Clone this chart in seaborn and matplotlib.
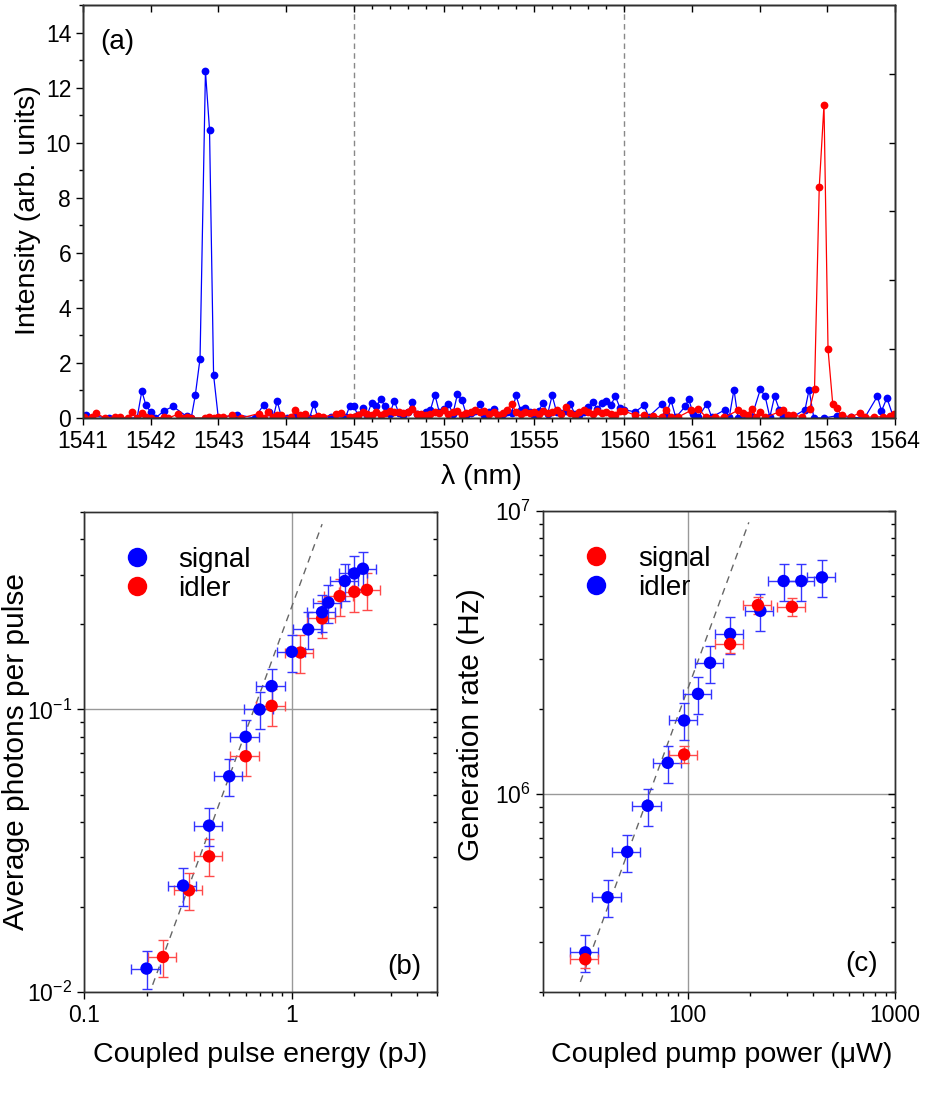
import numpy as np
import matplotlib
matplotlib.use("Agg")
import matplotlib.pyplot as plt
from matplotlib import ticker
from matplotlib.lines import Line2D
import seaborn as sns

# ---------------- panel (a): spectra ----------------
# blue trace (signal), 1541-1545 nm window
sig_lo_wl = [1541.05, 1541.39, 1541.80, 1541.87, 1541.93, 1542.00, 1542.07, 1542.20, 1542.33, 1542.53,
             1542.60, 1542.66, 1542.73, 1542.81, 1542.87, 1542.93, 1543.00, 1543.27, 1543.54, 1543.67,
             1543.75, 1543.81, 1543.87, 1543.93, 1544.01, 1544.13, 1544.35, 1544.41, 1544.47, 1544.67,
             1544.88, 1544.94]
sig_lo_int = [0.10, 0.00, 0.00, 0.98, 0.46, 0.22, 0.00, 0.26, 0.42, 0.06,
              0.00, 0.83, 2.16, 12.60, 10.47, 1.56, 0.00, 0.12, 0.00, 0.48,
              0.20, 0.00, 0.62, 0.05, 0.00, 0.05, 0.00, 0.52, 0.02, 0.05,
              0.02, 0.42]
# middle window 1545-1560 nm, sampled every 0.25 nm
mid_wl = np.arange(1545.0, 1560.001, 0.25)
sig_mid_int = [0.42, 0.10, 0.38, 0.12, 0.55, 0.42, 0.68, 0.42, 0.15, 0.62,
               0.18, 0.12, 0.20, 0.58, 0.15, 0.10, 0.20, 0.28, 0.85, 0.20,
               0.34, 0.52, 0.15, 0.86, 0.64, 0.12, 0.18, 0.25, 0.50, 0.12,
               0.20, 0.34, 0.10, 0.15, 0.20, 0.18, 0.82, 0.28, 0.38, 0.20,
               0.12, 0.25, 0.55, 0.15, 0.82, 0.20, 0.18, 0.25, 0.52, 0.15,
               0.12, 0.22, 0.40, 0.58, 0.34, 0.55, 0.60, 0.46, 0.79, 0.38,
               0.30]
idl_mid_int = [0.05, 0.12, 0.22, 0.15, 0.10, 0.20, 0.12, 0.18, 0.25, 0.22,
               0.20, 0.18, 0.22, 0.34, 0.15, 0.14, 0.10, 0.15, 0.22, 0.18,
               0.28, 0.14, 0.20, 0.25, 0.12, 0.18, 0.22, 0.28, 0.20, 0.25,
               0.14, 0.22, 0.10, 0.18, 0.30, 0.52, 0.20, 0.15, 0.22, 0.18,
               0.20, 0.14, 0.25, 0.18, 0.22, 0.28, 0.15, 0.40, 0.18, 0.12,
               0.20, 0.28, 0.22, 0.15, 0.25, 0.18, 0.20, 0.14, 0.10, 0.25,
               0.25]
# 1560-1564 nm window
sig_hi_wl = [1560.16, 1560.29, 1560.36, 1560.56, 1560.62, 1560.69, 1560.76, 1560.90, 1560.95, 1561.02,
             1561.09, 1561.22, 1561.29, 1561.49, 1561.55, 1561.62, 1561.68, 1561.88, 1562.01, 1562.08,
             1562.15, 1562.22, 1562.29, 1562.35, 1562.48, 1562.67, 1562.73, 1562.80, 1562.95, 1563.14,
             1563.35, 1563.55, 1563.74, 1563.80, 1563.88, 1563.98]
sig_hi_int = [0.22, 0.46, 0.05, 0.50, 0.15, 0.64, 0.02, 0.42, 0.68, 0.15,
              0.02, 0.52, 0.03, 0.30, 0.02, 1.03, 0.00, 0.02, 1.04, 0.79,
              0.03, 0.79, 0.30, 0.02, 0.03, 0.30, 1.03, 0.00, 0.00, 0.08,
              0.02, 0.00, 0.79, 0.25, 0.73, 0.00]

# red trace (idler)
idl_lo_wl = [1541.02, 1541.13, 1541.19, 1541.32, 1541.47, 1541.54, 1541.67, 1541.73, 1541.80, 1541.87,
             1541.93, 1542.00, 1542.20, 1542.26, 1542.41, 1542.47, 1542.54, 1542.60, 1542.80, 1542.86,
             1542.93, 1543.00, 1543.07, 1543.20, 1543.34, 1543.60, 1543.67, 1543.74, 1543.81, 1543.87,
             1543.93, 1544.07, 1544.14, 1544.20, 1544.28, 1544.41, 1544.47, 1544.54, 1544.74, 1544.81,
             1544.94]
idl_lo_int = [0.05, 0.03, 0.18, 0.00, 0.04, 0.03, 0.00, 0.22, 0.00, 0.18,
              0.04, 0.00, 0.02, 0.00, 0.14, 0.00, 0.02, 0.00, 0.00, 0.04,
              0.00, 0.04, 0.03, 0.10, 0.00, 0.16, 0.00, 0.22, 0.04, 0.10,
              0.10, 0.03, 0.28, 0.10, 0.16, 0.00, 0.07, 0.04, 0.13, 0.18,
              0.03]
idl_hi_wl = [1560.16, 1560.29, 1560.42, 1560.55, 1560.62, 1560.69, 1560.80, 1560.99, 1561.09, 1561.20,
             1561.34, 1561.48, 1561.68, 1561.75, 1561.82, 1561.88, 1561.95, 1562.01, 1562.08, 1562.29,
             1562.35, 1562.42, 1562.49, 1562.62, 1562.74, 1562.81, 1562.88, 1562.95, 1563.01, 1563.08,
             1563.14, 1563.21, 1563.35, 1563.48, 1563.55, 1563.69, 1563.82, 1563.92, 1563.98]
idl_hi_int = [0.10, 0.10, 0.08, 0.04, 0.28, 0.02, 0.04, 0.28, 0.34, 0.05,
              0.04, 0.02, 0.28, 0.18, 0.10, 0.34, 0.02, 0.22, 0.02, 0.22,
              0.28, 0.12, 0.12, 0.04, 0.34, 1.04, 8.38, 11.37, 2.49, 0.49,
              0.35, 0.10, 0.04, 0.18, 0.02, 0.04, 0.04, 0.08, 0.13]

wl_major = [1541, 1542, 1543, 1544, 1545, 1550, 1555, 1560, 1561, 1562, 1563, 1564]
wl_minor = [1546, 1547, 1548, 1549, 1551, 1552, 1553, 1554, 1556, 1557, 1558, 1559]

# ---------------- panel (b): photons per pulse ----------------
b_sig_energy = [0.20, 0.30, 0.40, 0.50, 0.60, 0.70, 0.80, 1.00, 1.20, 1.40, 1.50, 1.80, 2.00, 2.20]
b_sig_photons = [0.0121, 0.0238, 0.0388, 0.058, 0.080, 0.100, 0.121, 0.160, 0.192, 0.221, 0.239, 0.285, 0.303, 0.315]
b_idl_energy = [0.24, 0.32, 0.40, 0.60, 0.80, 1.10, 1.40, 1.70, 2.00, 2.30]
b_idl_photons = [0.0133, 0.0229, 0.0302, 0.0683, 0.103, 0.159, 0.210, 0.252, 0.261, 0.265]
b_fit_energy = [0.214, 1.40]
b_fit_photons = [0.0106, 0.453]

# ---------------- panel (c): generation rate ----------------
c_idl_power = [32, 41, 51, 64, 80, 96, 112, 128, 160, 224, 290, 353, 444]
c_idl_rate = [2.76e5, 4.32e5, 6.25e5, 9.1e5, 1.29e6, 1.82e6, 2.26e6, 2.91e6, 3.68e6, 4.44e6, 5.66e6, 5.66e6, 5.83e6]
c_sig_power = [32, 96, 160, 218, 318]
c_sig_rate = [2.61e5, 1.38e6, 3.39e6, 4.65e6, 4.59e6]
c_fit_power = [30.3, 197]
c_fit_rate = [2.17e5, 9.12e6]

# relative error bars
x_rel_err = 0.155
y_rel_err = 0.15
c_sig_y_rel_err = 0.07

BLUE = "#0000ff"
RED = "#ff0000"

sns.set_style("ticks")
plt.rcParams["font.family"] = ["Liberation Sans", "DejaVu Sans"]
plt.rcParams["mathtext.default"] = "regular"
plt.rcParams["axes.linewidth"] = 1.0
plt.rcParams["axes.edgecolor"] = "#303030"
plt.rcParams["text.color"] = "black"
plt.rcParams["axes.labelcolor"] = "black"
plt.rcParams["xtick.color"] = "black"
plt.rcParams["ytick.color"] = "black"

TICK_FS = 16.5
LABEL_FS = 20.5


# broken wavelength axis: three windows of equal width
def wl_fwd(x):
    x = np.asarray(x, dtype=float)
    return np.where(x <= 1545, x - 1541,
                    np.where(x <= 1560, 4 + (x - 1545) * 4 / 15, 8 + (x - 1560)))


def wl_inv(u):
    u = np.asarray(u, dtype=float)
    return np.where(u <= 4, u + 1541,
                    np.where(u <= 8, 1545 + (u - 4) * 15 / 4, 1560 + (u - 8)))


fig = plt.figure(figsize=(9.25, 10.95), dpi=100)

# ---------- (a) ----------
ax = fig.add_axes([0.0897, 0.6183, 0.8779, 0.3771])
ax.set_xscale("function", functions=(wl_fwd, wl_inv))
ax.set_xlim(1541, 1564)
ax.set_ylim(0, 15)

sig_wl = list(sig_lo_wl) + list(mid_wl) + list(sig_hi_wl)
sig_int = list(sig_lo_int) + list(sig_mid_int) + list(sig_hi_int)
idl_wl = list(idl_lo_wl) + list(mid_wl) + list(idl_hi_wl)
idl_int = list(idl_lo_int) + list(idl_mid_int) + list(idl_hi_int)

for xs, ys, c in [(sig_wl, sig_int, BLUE), (idl_wl, idl_int, RED)]:
    sns.lineplot(x=xs, y=ys, ax=ax, color=c, sort=False, estimator=None,
                 linewidth=0.9, marker="o", markersize=5.6,
                 markeredgecolor=c, markeredgewidth=0)

for b in [1545, 1560]:
    ax.axvline(b, color="#888888", lw=1, ls=(0, (4, 3)), zorder=0)

ax.set_xticks(wl_major)
ax.set_xticks(wl_minor, minor=True)
ax.xaxis.set_major_formatter(ticker.FormatStrFormatter("%d"))
ax.xaxis.set_minor_formatter(ticker.NullFormatter())
ax.set_yticks(np.arange(0, 15, 2))
ax.yaxis.set_minor_locator(ticker.MultipleLocator(1))
ax.tick_params(which="both", direction="out", labelsize=TICK_FS, width=1)
ax.tick_params(which="major", length=5)
ax.tick_params(which="minor", length=3)
ax.set_xlabel("λ (nm)", fontsize=LABEL_FS)
ax.set_ylabel("Intensity (arb. units)", fontsize=LABEL_FS)
ax.xaxis.set_label_coords(0.491, -0.112)
ax.yaxis.set_label_coords(-0.052, 0.504)
ax.text(0.021, 0.91, "(a)", transform=ax.transAxes, fontsize=20, ha="left", va="center")

top = ax.twiny()
top.set_xscale("function", functions=(wl_fwd, wl_inv))
top.set_xlim(1541, 1564)
top.set_xticks(wl_major)
top.set_xticks(wl_minor, minor=True)
top.tick_params(which="both", direction="in", labeltop=False, width=1)
top.tick_params(which="major", length=5)
top.tick_params(which="minor", length=3)
right = ax.twinx()
right.set_ylim(0, 15)
right.set_yticks([2.5, 5, 7.5, 10, 12.5])
right.tick_params(direction="in", labelright=False, length=4, width=1)


def log_panel(ax, xlim, ylim):
    ax.set_xscale("log")
    ax.set_yscale("log")
    ax.set_xlim(*xlim)
    ax.set_ylim(*ylim)
    ax.grid(True, which="major", color="#999999", lw=1)
    ax.set_axisbelow(True)
    ax.xaxis.set_major_formatter(ticker.FormatStrFormatter("%g"))
    ax.xaxis.set_minor_formatter(ticker.NullFormatter())
    ax.yaxis.set_minor_formatter(ticker.NullFormatter())
    ax.tick_params(which="both", direction="out", labelsize=TICK_FS, width=1)
    ax.tick_params(which="major", length=5)
    ax.tick_params(which="minor", length=3)
    tw = ax.twinx()
    tw.set_yscale("log")
    tw.set_ylim(*ylim)
    tw.tick_params(which="both", direction="in", labelright=False, width=1)
    tw.tick_params(which="major", length=5)
    tw.tick_params(which="minor", length=3)


def points(ax, xs, ys, c, ecol, yrel):
    xs = np.asarray(xs)
    ys = np.asarray(ys)
    ax.errorbar(xs, ys, xerr=x_rel_err * xs, yerr=yrel * ys, fmt="none",
                ecolor=ecol, elinewidth=1, capsize=3.5, capthick=1, zorder=2)
    sns.scatterplot(x=xs, y=ys, ax=ax, color=c, s=80, edgecolor="none", zorder=3)


def legend(ax, entries, anchor):
    handles = [Line2D([], [], ls="", marker="o", markersize=14, color=c, markeredgewidth=0)
               for c, _ in entries]
    ax.legend(handles, [t for _, t in entries], loc="upper left", bbox_to_anchor=anchor,
              frameon=False, fontsize=20, handlelength=1.0, handletextpad=1.0,
              labelspacing=0.1, borderaxespad=0)


# ---------- (b) ----------
axb = fig.add_axes([0.0908, 0.0941, 0.3816, 0.4383])
log_panel(axb, (0.1, 5), (0.01, 0.5))
axb.plot(b_fit_energy, b_fit_photons, color="#666666", lw=1, ls=(0, (5, 4)), zorder=1)
points(axb, b_idl_energy, b_idl_photons, RED, "#ff4a4a", y_rel_err)
points(axb, b_sig_energy, b_sig_photons, BLUE, "#3535ff", y_rel_err)
legend(axb, [(BLUE, "signal"), (RED, "idler")], (0.079, 0.95))
axb.set_xlabel("Coupled pulse energy (pJ)", fontsize=LABEL_FS)
axb.set_ylabel("Average photons per pulse", fontsize=21.5)
axb.xaxis.set_label_coords(0.5, -0.104)
axb.yaxis.set_label_coords(-0.152, 0.5)
axb.text(0.957, 0.052, "(b)", transform=axb.transAxes, fontsize=20, ha="right", va="center")

# ---------- (c) ----------
axc = fig.add_axes([0.587, 0.0941, 0.3806, 0.4392])
log_panel(axc, (20, 1000), (2e5, 1e7))
axc.plot(c_fit_power, c_fit_rate, color="#666666", lw=1, ls=(0, (5, 4)), zorder=1)
points(axc, c_idl_power, c_idl_rate, BLUE, "#3535ff", y_rel_err)
points(axc, c_sig_power, c_sig_rate, RED, "#ff4a4a", c_sig_y_rel_err)
legend(axc, [(RED, "signal"), (BLUE, "idler")], (0.08, 0.95))
axc.set_xlabel("Coupled pump power (μW)", fontsize=LABEL_FS)
axc.set_ylabel("Generation rate (Hz)", fontsize=21.5)
axc.xaxis.set_label_coords(0.508, -0.104)
axc.yaxis.set_label_coords(-0.165, 0.555)
axc.text(0.952, 0.058, "(c)", transform=axc.transAxes, fontsize=20, ha="right", va="center")

fig.savefig("out.png", dpi=100)
